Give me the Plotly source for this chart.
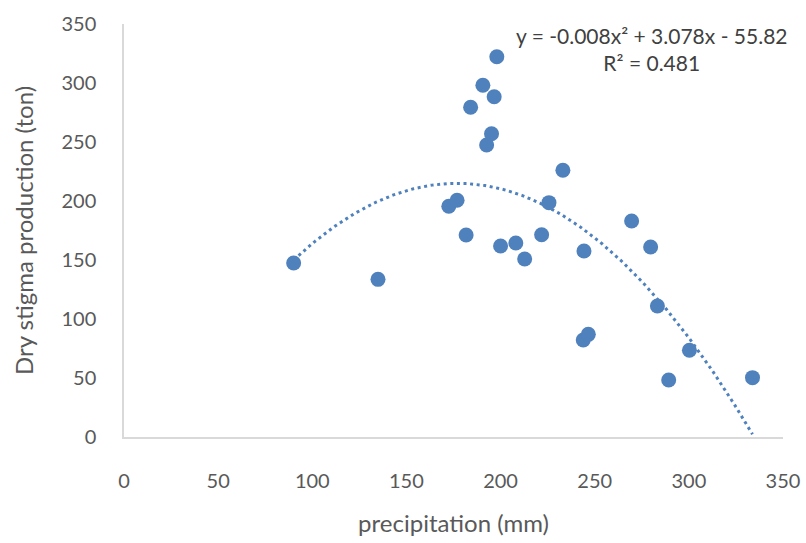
import numpy as np
import plotly.graph_objects as go

precip = [90.1, 134.9, 172.5, 176.9, 181.7, 184.1, 190.6, 192.6, 195.2, 196.6,
          198.0, 200.0, 208.1, 212.8, 221.8, 225.7, 233.1, 244.3, 243.9, 246.6,
          269.6, 279.7, 283.3, 300.3, 289.3, 333.8]
production = [147.5, 133.6, 195.5, 200.6, 171.2, 279.4, 298.1, 247.5, 257.0, 288.4,
              322.3, 161.9, 164.4, 150.8, 171.4, 198.6, 226.0, 157.6, 82.2, 87.0,
              183.0, 161.0, 111.0, 73.5, 48.3, 50.3]
x_ticks = [0, 50, 100, 150, 200, 250, 300, 350]
y_ticks = [0, 50, 100, 150, 200, 250, 300, 350]
eq_text = "y = -0.008x² + 3.078x - 55.82<br>R² = 0.481"

blue = "#4F81BD"
font = "Lato"

coef = np.polyfit(precip, production, 2)
xs = np.linspace(min(precip), max(precip), 200)
ys = np.polyval(coef, xs)

fig = go.Figure()
fig.add_trace(go.Scatter(x=xs, y=ys, mode="lines",
                         line=dict(color=blue, width=3, dash="3px,3.6px"),
                         hoverinfo="skip", showlegend=False))
fig.add_trace(go.Scatter(x=precip, y=production, mode="markers",
                         marker=dict(color=blue, size=15, line=dict(width=0)),
                         showlegend=False))

fig.add_annotation(x=280.4, y=329, xref="x", yref="y", text=eq_text,
                   showarrow=False, font=dict(family=font, size=21, color="#404040"),
                   align="center")

axis_common = dict(showgrid=False, zeroline=False, showline=True,
                   linecolor="#D9D9D9", linewidth=1.5, ticks="",
                   tickfont=dict(family=font, size=20, color="#595959"))

fig.update_xaxes(range=[0, 350], tickvals=x_ticks, ticklabelstandoff=25,
                 title=dict(text="precipitation (mm)", standoff=24,
                            font=dict(family=font, size=24, color="#595959")),
                 **axis_common)
fig.update_yaxes(range=[0, 350], tickvals=y_ticks, ticklabelstandoff=22,
                 title=dict(text="Dry stigma production (ton)", standoff=21,
                            font=dict(family=font, size=24, color="#595959")),
                 **axis_common)

fig.update_layout(width=806, height=543, plot_bgcolor="white", paper_bgcolor="white",
                  margin=dict(l=124, r=23, t=24, b=106, autoexpand=False),
                  font=dict(family=font))
fig.write_html("out.html")
